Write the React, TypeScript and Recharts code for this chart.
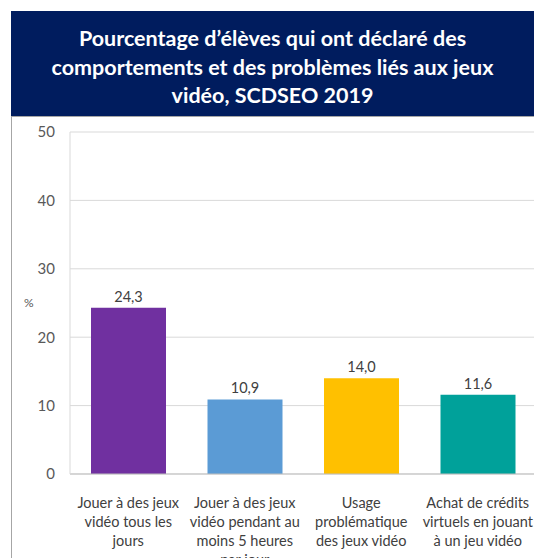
import React from "react";
import { BarChart, Bar, XAxis, YAxis, CartesianGrid, Cell, LabelList } from "recharts";

const categories = [
  "Jouer à des jeux vidéo tous les jours",
  "Jouer à des jeux vidéo pendant au moins 5 heures par jour",
  "Usage problématique des jeux vidéo",
  "Achat de crédits virtuels en jouant à un jeu vidéo",
];
const categoryLines = [
  ["Jouer à des jeux", "vidéo tous les", "jours"],
  ["Jouer à des jeux", "vidéo pendant au", "moins 5 heures", "par jour"],
  ["Usage", "problématique", "des jeux vidéo"],
  ["Achat de crédits", "virtuels en jouant", "à un jeu vidéo"],
];
const values = [24.3, 10.9, 14.0, 11.6];
const colors = ["#7030a0", "#5b9bd5", "#ffc000", "#00a19a"];
const yTicks = [0, 10, 20, 30, 40, 50];
const titleLines = [
  "Pourcentage d’élèves qui ont déclaré des",
  "comportements et des problèmes liés aux jeux",
  "vidéo, SCDSEO 2019",
];

const data = categories.map((c, i) => ({ name: c, idx: i, value: values[i] }));

const FONT = "Lato, 'Open Sans', sans-serif";

const XTick = (props: any) => {
  const { x, y, payload } = props;
  const lines = categoryLines[payload.index] || [String(payload.value)];
  return (
    <text x={x} y={y} textAnchor="middle" fill="#404040" fontSize={14.5} fontFamily={FONT}>
      {lines.map((l: string, i: number) => (
        <tspan key={i} x={x} dy={i === 0 ? 26 : 19}>
          {l}
        </tspan>
      ))}
    </text>
  );
};

export default function App() {
  return (
    <div
      style={{
        position: "absolute",
        left: 0,
        top: 0,
        width: 534,
        height: 558,
        overflow: "hidden",
        background: "#ffffff",
        fontFamily: FONT,
      }}
    >
      <div
        style={{
          position: "absolute",
          left: 11,
          top: 116,
          width: 523,
          height: 442,
          borderLeft: "1px solid #a6a6a6",
          borderTop: "1px solid #a6a6a6",
        }}
      />
      <div style={{ position: "absolute", left: 0, top: 0 }}>
        <BarChart
          width={540}
          height={558}
          data={data}
          margin={{ top: 132, right: 4, bottom: 0, left: 0 }}
          barCategoryGap={21}
        >
          <CartesianGrid vertical={false} stroke="#d9d9d9" />
          <XAxis
            dataKey="name"
            height={84}
            axisLine={{ stroke: "#bfbfbf" }}
            tickLine={false}
            tick={<XTick />}
            interval={0}
          />
          <YAxis
            width={70}
            domain={[0, 50]}
            ticks={yTicks}
            axisLine={{ stroke: "#d9d9d9" }}
            tickLine={false}
            tickSize={0}
            tickMargin={15}
            tick={{ fill: "#595959", fontSize: 15, fontFamily: FONT }}
          />
          <Bar dataKey="value" isAnimationActive={false}>
            {data.map((d, i) => (
              <Cell key={i} fill={colors[i]} />
            ))}
            <LabelList
              dataKey="value"
              position="top"
              offset={6}
              formatter={(v: any) => Number(v).toFixed(1).replace(".", ",")}
              style={{ fill: "#404040", fontSize: 14.5, fontFamily: FONT }}
            />
          </Bar>
        </BarChart>
      </div>
      <div
        style={{
          position: "absolute",
          left: 24,
          top: 295,
          fontSize: 12,
          color: "#595959",
        }}
      >
        %
      </div>
      <div
        style={{
          position: "absolute",
          left: 11,
          top: 11,
          width: 523,
          height: 105,
          background: "#001c5e",
          color: "#ffffff",
          fontWeight: 700,
          fontSize: 21.5,
          textAlign: "center",
          boxSizing: "border-box",
          paddingTop: 13,
          lineHeight: "28.5px",
        }}
      >
        {titleLines.map((l, i) => (
          <div key={i}>{l}</div>
        ))}
      </div>
    </div>
  );
}
